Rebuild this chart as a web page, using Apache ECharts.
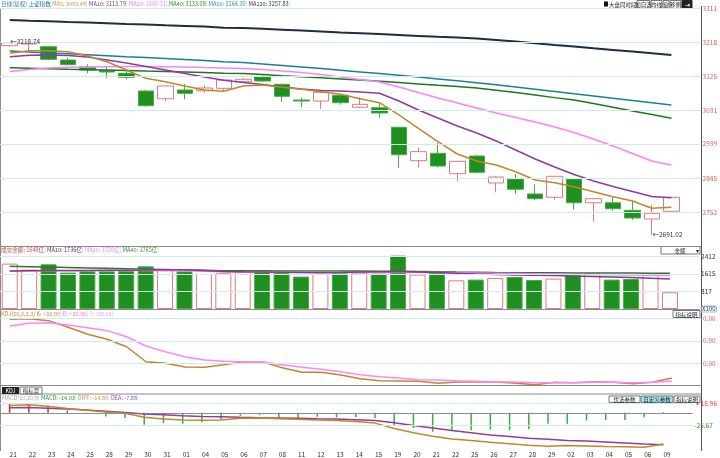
<!DOCTYPE html>
<html><head><meta charset="utf-8">
<script src="https://cdn.jsdelivr.net/npm/echarts@6/dist/echarts.min.js"></script>
<style>html,body{margin:0;padding:0;background:#fff}#c{width:720px;height:458px}</style>
</head><body><div id="c"></div>
<script>
// ---------- data ----------
const dates = ['21','22','23','24','25','28','29','30','31','01','04','05','06','07','08','11','12','13','14','15','19','20','21','22','25','26','27','28','29','02','03','04','05','06','09'];
const openP  = [3208.4,3213.0,3205.6,3169.2,3150.0,3139.9,3132.7,3084.2,3063.0,3087.0,3085.0,3091.6,3109.7,3123.4,3102.6,3059.6,3056.8,3072.5,3039.6,3038.5,2984.8,2893.3,2913.5,2857.6,2906.0,2832.2,2843.0,2802.0,2793.0,2843.0,2778.0,2778.0,2757.3,2733.5,2754.6];
const closeP = [3216.6,3216.6,3171.0,3156.3,3141.8,3136.3,3121.8,3044.0,3098.0,3077.9,3092.5,3114.4,3116.3,3111.6,3069.7,3056.8,3080.7,3052.2,3047.8,3024.0,2909.7,2918.0,2878.7,2891.6,2861.5,2848.6,2815.0,2789.0,2850.5,2778.0,2789.0,2761.7,2736.3,2749.0,2793.0];
const lowP   = [3206.0,3194.7,3168.0,3155.0,3132.7,3119.0,3116.3,3041.0,3056.8,3061.5,3079.6,3084.2,3109.0,3109.0,3054.9,3039.6,3035.7,3046.7,3037.0,3011.0,2874.1,2874.0,2875.0,2838.5,2858.0,2806.7,2803.0,2785.6,2785.6,2760.0,2726.0,2756.0,2730.8,2691.02,2752.0];
const highP  = [3218.74,3217.5,3208.0,3175.5,3157.4,3150.8,3143.7,3087.0,3099.0,3103.4,3099.9,3115.5,3120.0,3127.0,3104.0,3065.9,3085.0,3075.0,3067.0,3050.5,2986.0,2929.0,2942.6,2893.0,2909.0,2852.0,2856.8,2828.6,2851.5,2845.0,2790.0,2793.0,2781.0,2772.0,2795.0];
const ma5   = [3187.5,3194.7,3194.7,3191.9,3180.1,3164.5,3141.8,3119.0,3109.7,3098.1,3087.0,3083.5,3098.1,3100.8,3094.4,3089.0,3082.3,3075.2,3063.2,3052.3,3018.6,2982.1,2945.3,2911.6,2892.5,2881.5,2863.1,2840.4,2833.0,2822.0,2808.3,2794.6,2782.8,2762.8,2765.6];
const ma10  = [3178.2,3182.1,3182.9,3181.5,3177.4,3169.2,3161.0,3151.4,3141.8,3132.2,3122.6,3113.8,3107.5,3102.0,3095.2,3089.7,3085.6,3084.2,3081.5,3077.9,3056.8,3032.2,3010.3,2988.3,2969.2,2947.3,2922.6,2897.9,2876.0,2855.5,2837.7,2822.6,2808.9,2795.2,2791.9];
const ma20  = [3137.7,3143.1,3147.3,3149.2,3150.0,3150.8,3151.4,3151.4,3150.8,3150.0,3148.6,3147.3,3145.9,3143.2,3139.0,3134.9,3129.5,3122.6,3115.8,3108.9,3095.2,3080.1,3065.1,3051.4,3037.7,3024.0,3011.6,2999.3,2985.6,2970.5,2952.7,2933.5,2913.0,2892.4,2881.5];
const ma40  = [3148.1,3146.7,3145.3,3143.9,3142.8,3141.5,3140.1,3138.8,3137.7,3136.3,3134.9,3133.1,3132.2,3129.2,3126.2,3123.4,3120.4,3117.4,3114.4,3110.8,3107.3,3103.7,3100.1,3096.6,3092.8,3086.4,3079.9,3073.0,3066.1,3059.6,3050.0,3039.8,3029.7,3019.6,3009.4];
const ma60  = [3193.8,3191.4,3188.6,3186.1,3183.4,3180.9,3178.2,3175.8,3173.0,3170.3,3167.6,3164.3,3162.1,3158.2,3154.1,3150.0,3145.7,3141.2,3136.6,3132.0,3127.3,3122.3,3117.4,3112.2,3107.0,3101.5,3095.5,3089.2,3082.9,3076.6,3070.5,3064.2,3058.2,3051.9,3045.9];
const ma120 = [3278.8,3276.9,3275.2,3273.3,3271.7,3269.7,3267.8,3266.2,3264.3,3262.6,3260.7,3257.8,3256.9,3254.7,3252.2,3249.8,3247.3,3244.8,3242.6,3240.2,3237.7,3235.3,3232.8,3230.6,3228.2,3224.0,3219.6,3215.0,3210.3,3205.9,3201.3,3196.9,3192.2,3187.5,3182.9];
const priceTicks = [3311,3218,3125,3031,2939,2845,2752];

const volume  = [2095,1818,2063,1680,1740,1740,1754,1970,1840,1740,1615,1648,1708,1772,1661,1495,1615,1648,1680,1633,2464,1587,1661,1324,1357,1431,1477,1338,1403,1555,1661,1357,1384,1569,771];
const volMa10 = [1754,1763,1772,1777,1781,1786,1786,1795,1809,1809,1772,1736,1717,1707,1694,1684,1670,1684,1707,1717,1726,1703,1680,1647,1615,1592,1574,1555,1541,1523,1500,1477,1449,1417,1384];
const volMa20 = [1754,1760,1765,1768,1770,1772,1774,1775,1770,1760,1745,1720,1712,1706,1700,1695,1690,1688,1686,1690,1695,1690,1680,1670,1660,1648,1635,1622,1610,1598,1590,1580,1570,1558,1545];
const volMa40 = [1970,1955,1935,1915,1895,1875,1858,1840,1822,1805,1785,1765,1762,1760,1758,1755,1752,1750,1748,1745,1740,1730,1718,1705,1695,1685,1678,1672,1668,1664,1661,1658,1656,1653,1650];
const volTicks = [2412,1615,817,0];

const kdjK = [79.4,80.0,78.0,71.2,64.1,59.0,51.4,36.1,34.5,30.7,30.4,33.0,35.8,35.8,30.0,25.3,25.3,22.6,18.8,16.7,16.4,16.1,14.1,15.4,15.4,15.4,14.1,12.7,15.1,14.7,15.7,15.1,13.7,15.1,19.5];
const kdjD = [72.6,75.3,75.9,73.6,70.8,67.8,61.6,52.1,46.3,41.2,37.9,36.5,35.8,35.8,33.0,30.4,28.4,25.9,22.9,20.8,19.5,17.8,17.4,16.7,16.1,15.7,15.4,14.7,14.7,14.7,15.1,15.1,14.7,15.1,16.1];
const kdjTicks = [80,57.5,34.5];
const kdjTickLabels = ['0.00','0.00','0.00'];

const macdDiff = [14.9,16.3,13.6,9.0,5.1,1.8,-0.8,-9.2,-12.6,-14.5,-15.1,-14.89,-11.2,-10.6,-12.0,-13.2,-14.5,-15.9,-17.9,-21.0,-32.2,-40.7,-48.0,-53.3,-56.4,-60.4,-63.1,-66.3,-68.2,-67.0,-67.6,-69.0,-69.6,-70.2,-63.7];
const macdDea  = [10.4,11.0,9.6,7.7,5.7,3.1,0.6,-2.2,-4.1,-6.1,-7.3,-7.88,-9.2,-10.0,-10.6,-11.2,-12.0,-12.6,-14.0,-15.9,-20.4,-25.8,-30.9,-36.2,-40.7,-45.4,-48.6,-51.9,-53.9,-56.4,-57.8,-59.8,-61.7,-63.7,-65.1];
const macdHist = [18.3,18.3,13.0,4.5,-1.5,-7.3,-10.6,-24.4,-21.0,-22.4,-19.1,-14.03,-6.1,-4.1,-9.2,-10.6,-8.1,-9.2,-8.7,-11.2,-26.9,-30.9,-38.7,-36.8,-35.6,-34.2,-35.6,-33.6,-22.4,-22.4,-15.9,-14.5,-14.5,-9.2,1.0];
const macdTicks = [18.96,-25.67];

// ---------- chart ----------
const FONT = '"Noto Sans CJK SC","Noto Sans",sans-serif';
const cats = dates.concat(['']);
const GRIDC = '#cdebf1';
const UP = '#e07a7a', DOWN_FILL = '#1f8f1f', DOWN_BORDER = '#47aa47';

function rs(color, size){ return {color:color, fontSize:size||5.6, fontFamily:FONT, fontWeight:'normal'}; }
function gridLines(xi, yi, ticks){
  return {type:'line', xAxisIndex:xi, yAxisIndex:yi, data:[], z:0, silent:true,
    markLine:{silent:true, symbol:['none','none'], animation:false, label:{show:false},
      lineStyle:{color:GRIDC, width:1, type:'solid'}, emphasis:{disabled:true},
      data: ticks.map(v=>({yAxis:v}))}};
}
function maLine(name, data, color, width){
  return {name, type:'line', xAxisIndex:0, yAxisIndex:0, data, symbol:'none', showSymbol:false,
    lineStyle:{color, width:width||1.5}, itemStyle:{color}, z:4, emphasis:{disabled:true}};
}
function subLine(name, xi, data, color, width){
  return {name, type:'line', xAxisIndex:xi, yAxisIndex:xi, data, symbol:'none', showSymbol:false,
    lineStyle:{color, width:width||1.5}, itemStyle:{color}, z:4, emphasis:{disabled:true}};
}
function btn(x,y,w,h,text,opt){
  opt = opt||{};
  return {type:'group', children:[
    {type:'rect', shape:{x:x,y:y,width:w,height:h}, style:{fill:opt.fill||'#fff', stroke:opt.stroke||'#777', lineWidth:1}},
    {type:'text', style:{x:x+w/2, y:y+h/2+0.5, text:text, font:(opt.size||5.5)+'px '+FONT, fill:opt.color||'#222', align:'center', verticalAlign:'middle'}}
  ]};
}
function legendTitle(left, top, text, rich){
  return {left, top, padding:0, text, textStyle:{fontSize:5.6, fontFamily:FONT, fontWeight:'normal', rich}};
}

const yBase = {type:'value', position:'right', axisLine:{show:false}, axisTick:{show:false}, splitLine:{show:false}};

const option = {
  animation:false,
  backgroundColor:'#fff',
  title:[
    legendTitle(1, 1.5,
      '{a|日线(复权)} {b|上证指数} {m5|MA5: 3083.49}{s|¦} {m10|MA10: 3113.79}{s|¦} {m20|MA20: 3147.31}{s|¦} {m40|MA40: 3133.08}{s|¦} {m60|MA60: 3164.30}{s|¦} {m120|MA120: 3257.83}{s|¦}',
      {a:rs('#3f74cf'), b:rs('#1f6f9f'), m5:rs('#c49a4a'), m10:rs('#7a3a70'), m20:rs('#ff7dff'),
       m40:rs('#2f8a2f'), m60:rs('#3a8aa8'), m120:rs('#2a3646'), s:rs('#7fd0e0')}),
    legendTitle(1, 247.5,
      '{a|成交金额: 1648亿}{s|¦} {b|MA10: 1736亿}{s|¦} {c|MA20: 1720亿}{s|¦} {d|MA40: 1765亿}{s|¦}',
      {a:rs('#d04848'), b:rs('#6a2a5a'), c:rs('#ff7dff'), d:rs('#3a8a3a'), s:rs('#7fd0e0')}),
    legendTitle(1, 311,
      '{a|KDJ(20,3,3,3) K: +33.00}{s|¦} {b|D: +36.50}{s|¦} {c|J: +26.01}{s|¦}',
      {a:rs('#c8903a'), b:rs('#ff70ff'), c:rs('#f2a0d8'), s:rs('#7fd0e0')}),
    legendTitle(2, 395,
      '{a|MACD(10,20,9)} {b|MACD: -14.03}{s|¦} {c|DIFF: -14.89}{s|¦} {d|DEA: -7.88}{s|¦}',
      {a:rs('#aaaaaa'), b:rs('#2a9a2a'), c:rs('#d09040'), d:rs('#9a4a9a'), s:rs('#7fd0e0')})
  ],
  grid:[
    {left:0, top:8, width:701, height:238},
    {left:0, top:247, width:701, height:62},
    {left:0, top:310, width:701, height:75.7},
    {left:0, top:394, width:701, height:56.7}
  ],
  xAxis:[0,1,2,3].map(i=>({
    type:'category', gridIndex:i, data:cats, boundaryGap:true,
    axisLine:{show:true, lineStyle:{color:'#8a8a8a', width:1}},
    axisTick:{show:false}, splitLine:{show:false},
    axisLabel: i===3 ? {show:true, interval:0, align:'left', fontSize:6.5, color:'#333', margin:3, fontFamily:FONT} : {show:false}
  })),
  yAxis:[
    Object.assign({}, yBase, {gridIndex:0, min:2659.5, max:3311.7,
      axisLabel:{customValues:priceTicks, color:'#e05a5a', fontSize:6.5, margin:2, fontFamily:FONT, formatter:v=>String(Math.round(v))}}),
    Object.assign({}, yBase, {gridIndex:1, min:0, max:2861,
      axisLabel:{customValues:volTicks, color:'#333', fontSize:6.5, margin:2, fontFamily:FONT,
        formatter:v=> v===0 ? '{u|X100}' : String(v),
        rich:{u:{fontSize:6, fontFamily:FONT, color:'#333', borderColor:'#8cc8e8', borderWidth:1, padding:[0,1,0,1]}}}}),
    Object.assign({}, yBase, {gridIndex:2, min:11.63, max:88.88,
      axisLabel:{customValues:kdjTicks, color:'#e05a5a', fontSize:6.5, margin:2, fontFamily:FONT,
        formatter:v=> kdjTickLabels[kdjTicks.indexOf(v)] || ''}}),
    Object.assign({}, yBase, {gridIndex:3, min:-72.95, max:38.54,
      axisLabel:{customValues:macdTicks, fontSize:6.5, margin:2, fontFamily:FONT,
        formatter:v=> v>0 ? '{r|▪' + v.toFixed(2) + '}' : '{g|' + v.toFixed(2) + '}',
        rich:{r:rs('#e04040',6.5), g:rs('#2a9a2a',6.5)}}})
  ],
  series:[
    gridLines(0,0,priceTicks),
    gridLines(1,1,volTicks.filter(v=>v>0)),
    gridLines(2,2,kdjTicks),
    gridLines(3,3,macdTicks),
    {name:'K线', type:'candlestick', xAxisIndex:0, yAxisIndex:0, z:3, barWidth:16,
      data: dates.map((d,i)=>[openP[i], closeP[i], lowP[i], highP[i]]),
      itemStyle:{color:'#ffffff', color0:DOWN_FILL, borderColor:UP, borderColor0:DOWN_BORDER, borderWidth:1},
      emphasis:{disabled:true},
      markPoint:{symbol:'circle', symbolSize:1, itemStyle:{color:'rgba(0,0,0,0)'}, animation:false, silent:true,
        label:{show:true, position:'right', distance:0, fontSize:6.5, color:'#333', fontFamily:FONT,
          formatter:p=>'←' + Number(p.value).toFixed(2)},
        data:[{type:'max', valueDim:'highest'}, {type:'min', valueDim:'lowest'}]}},
    maLine('MA120', ma120, '#1b2e44', 2),
    maLine('MA60', ma60, '#17838f', 1.5),
    maLine('MA40', ma40, '#1b7a1b', 1.5),
    maLine('MA20', ma20, '#ff80ff', 1.5),
    maLine('MA10', ma10, '#94399a', 1.5),
    maLine('MA5', ma5, '#c0872c', 1.5),
    {name:'成交金额', type:'bar', xAxisIndex:1, yAxisIndex:1, barWidth:16, z:3,
      data: volume.map((v,i)=>({value:v, itemStyle: closeP[i] >= openP[i]
        ? {color:'#ffffff', borderColor:UP, borderWidth:1}
        : {color:DOWN_FILL, borderColor:DOWN_BORDER, borderWidth:1}})),
      emphasis:{disabled:true}},
    subLine('VMA40', 1, volMa40, '#2a7a2a', 1.5),
    subLine('VMA20', 1, volMa20, '#ff77ff', 1.5),
    subLine('VMA10', 1, volMa10, '#8a3a8a', 1.5),
    subLine('K', 2, kdjK, '#c0872c', 1.5),
    subLine('D', 2, kdjD, '#ff85ff', 1.5),
    {name:'MACD', type:'bar', xAxisIndex:3, yAxisIndex:3, barWidth:1.5, z:3,
      data: macdHist.map(v=>({value:v, itemStyle:{color: v>=0 ? '#d42a2a' : '#36b036'}})),
      emphasis:{disabled:true},
      markLine:{silent:true, symbol:['none','none'], animation:false, label:{show:false},
        lineStyle:{color:'#6fa8b0', width:1, type:[1,2]},
        data:[[{coord:[0,0]},{coord:[dates.length-1,0]}]]}},
    subLine('DEA', 3, macdDea, '#953c95', 1.5),
    subLine('DIFF', 3, macdDiff, '#c0872c', 1.5)
  ],
  graphic:[
    {type:'line', shape:{x1:0.5,y1:8,x2:0.5,y2:451}, style:{stroke:'#8a8a8a', lineWidth:1}, silent:true},
    {type:'line', shape:{x1:701.5,y1:6,x2:701.5,y2:451}, style:{stroke:'#555', lineWidth:1}, silent:true},
    {type:'line', shape:{x1:0,y1:394,x2:701,y2:394}, style:{stroke:'#8a8a8a', lineWidth:1}, silent:true},
    {type:'group', children:[
      {type:'rect', shape:{x:2,y:387,width:17,height:7}, style:{fill:'#222'}},
      {type:'text', style:{x:10.5,y:390.8,text:'KDJ',font:'5.5px '+FONT,fill:'#fff',align:'center',verticalAlign:'middle'}},
      {type:'rect', shape:{x:20,y:387,width:22,height:7}, style:{fill:'#fff',stroke:'#777',lineWidth:1}},
      {type:'text', style:{x:31,y:390.8,text:'指标票',font:'5.5px '+FONT,fill:'#222',align:'center',verticalAlign:'middle'}}
    ]},
    {type:'rect', shape:{x:604,y:1.5,width:4,height:5}, style:{fill:'#111'}},
    {type:'text', style:{x:609,y:4.5,text:'大盘同时段',font:'5.5px '+FONT,fill:'#222',verticalAlign:'middle'}},
    btn(637,0.5,13,8,'加自选'),
    btn(651,0.5,11,8,'均线'),
    btn(663,0.5,6,8,'窗'),
    btn(670,0.5,11,8,'移侧'),
    btn(682,0.5,10,8,'⇥',{fill:'#222',color:'#fff',stroke:'#222',size:6}),
    {type:'group', children:[
      {type:'rect', shape:{x:661,y:246.5,width:39,height:7.5}, style:{fill:'#fff',stroke:'#777',lineWidth:1}},
      {type:'text', style:{x:680,y:250.5,text:'金额',font:'5.5px '+FONT,fill:'#222',align:'center',verticalAlign:'middle'}},
      {type:'text', style:{x:697,y:250.5,text:'▾',font:'5.5px '+FONT,fill:'#222',align:'center',verticalAlign:'middle'}}
    ]},
    btn(673,310.5,27,7,'指标说明'),
    btn(609,396,31,6.5,'优选参数'),
    btn(641,396,32,6.5,'自定义参数',{fill:'#a4e4ee'}),
    btn(674,396,26,6.5,'指标说明')
  ]
};
const chart = echarts.init(document.getElementById('c'));
chart.setOption(option);
</script>
</body></html>
